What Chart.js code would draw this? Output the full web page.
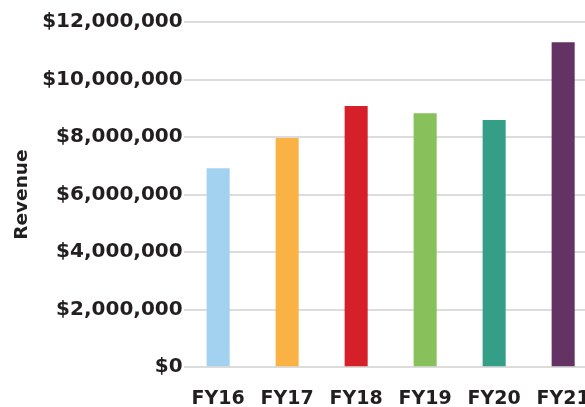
<!DOCTYPE html>
<html>
<head>
<meta charset="utf-8">
<script src="https://cdn.jsdelivr.net/npm/chart.js@4"></script>
<style>
  html, body { margin: 0; padding: 0; background: #fff; overflow: hidden; }
  #wrap { position: relative; width: 610px; height: 430px; }
</style>
</head>
<body>
<div id="wrap"><canvas id="chart"></canvas></div>
<script>
// Omsetning per regnskapsår
const years = ['FY16', 'FY17', 'FY18', 'FY19', 'FY20', 'FY21'];
const revenue = [6920000, 7970000, 9080000, 8830000, 8590000, 11300000];
const barColors = ['#a3d1f0', '#fbb244', '#d52029', '#88c15b', '#359e87', '#633363'];
const yTicks = [0, 2000000, 4000000, 6000000, 8000000, 10000000, 12000000];

const textColor = '#231f20';
const font = 'DejaVu Sans';

new Chart(document.getElementById('chart'), {
  type: 'bar',
  data: {
    labels: years,
    datasets: [{
      label: 'Revenue',
      data: revenue,
      backgroundColor: barColors,
      barPercentage: 0.334,
      categoryPercentage: 1
    }]
  },
  options: {
    responsive: true,
    maintainAspectRatio: false,
    animation: false,
    layout: { padding: { top: 22, right: 3, left: 11, bottom: 0 } },
    plugins: { legend: { display: false }, tooltip: { enabled: false } },
    scales: {
      x: {
        grid: { display: false, drawTicks: false },
        border: { display: false },
        ticks: { color: textColor, padding: 20, font: { family: font, size: 19, weight: 'bold' } }
      },
      y: {
        min: 0,
        max: 12000000,
        afterBuildTicks: axis => { axis.ticks = yTicks.map(v => ({ value: v })); },
        grid: { color: '#dcdcdc', lineWidth: 2, drawTicks: false },
        border: { display: false },
        title: {
          display: true,
          text: 'Revenue',
          color: textColor,
          padding: { top: 0, bottom: 8 },
          font: { family: font, size: 18.5, weight: 'bold' }
        },
        ticks: {
          color: textColor,
          padding: 1,
          font: { family: font, size: 20, weight: 'bold' },
          callback: v => '$' + v.toLocaleString('en-US')
        }
      }
    }
  }
});
</script>
</body>
</html>
